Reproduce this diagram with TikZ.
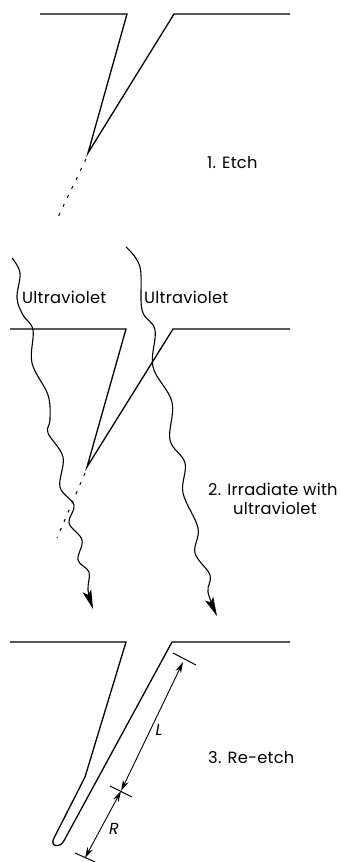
\documentclass[tikz,border=0pt]{standalone}
\usepackage{fontspec}
\setmainfont[LetterSpace=1.5]{Poppins}
\usetikzlibrary{arrows.meta}
\tikzset{
  surf/.style={line width=1.3pt,line join=miter},
  trace/.style={line width=1pt,dash pattern=on 3pt off 7pt},
  ray/.style={line width=1.1pt,-{Stealth[length=19pt,width=9pt,inset=4pt]}},
  dimline/.style={line width=1pt},
  dimend/.style={line width=0.9pt,{Stealth[length=11pt,width=6pt]}-{Stealth[length=11pt,width=6pt]}},
  lab/.style={font=\fontsize{16.3}{15}\selectfont,inner sep=0pt,anchor=west},
  sym/.style={font=\fontsize{16}{15}\selectfont\itshape,inner sep=0pt}
}
\begin{document}
\begin{tikzpicture}[x=1pt,y=-1pt]
\useasboundingbox (0,0) rectangle (340,862);
% Panel 1
\draw[surf] (40,14) -- (127,14) -- (88,153) -- (174,14) -- (290,14);
\draw[trace] (86,159) -- (58,217);
\node[lab] (etch) at (207,163) {1. Etch};
% Panel 2
\draw[surf] (10,329) -- (126,329) -- (87,467) -- (173,329) -- (290,329);
\draw[trace] (85,473) -- (57,538);
\draw[ray] plot[smooth,tension=0.6] coordinates {(12,258) (20,273) (17,298) (23,315) (33,330) (32,363) (48,395) (50,420) (48,433) (63,457) (60,487) (74,505) (69,523) (82,540) (78,560) (89,572) (88,590) (93,609)};
\draw[ray] plot[smooth,tension=0.6] coordinates {(126,247) (140,267) (142,310) (155,330) (153,367) (172,402) (170,440) (185,463) (183,493) (198,528) (195,553) (210,575) (208,592) (217,616)};
\node[lab] (uv1) at (22,297) {Ultraviolet};
\node[lab] (uv2) at (144,297) {Ultraviolet};
\node[lab] (irr1) at (208,489) {2. Irradiate with};
\node[lab] (irr2) at (233,508) {ultraviolet};
% Panel 3
\draw[surf] (10,642) -- (126,642) -- (85,777) -- (54,838) .. controls (51,844) and (54,846) .. (58,845.5) .. controls (62,845) and (64,841) .. (66,837) -- (172,642) -- (290,642);
\draw[dimend] (183,662) -- (121,791);
\draw[dimend] (121,791) -- (85,858);
\draw[dimline] (173,653) -- (196,665);
\draw[dimline] (110,786) -- (132,797);
\draw[dimline] (75,853) -- (95,862);
\node[sym] (L) at (159,730) {L};
\node[sym] (R) at (114,829) {R};
\node[lab] (reetch) at (208,758) {3. Re-etch};
\end{tikzpicture}
\end{document}
